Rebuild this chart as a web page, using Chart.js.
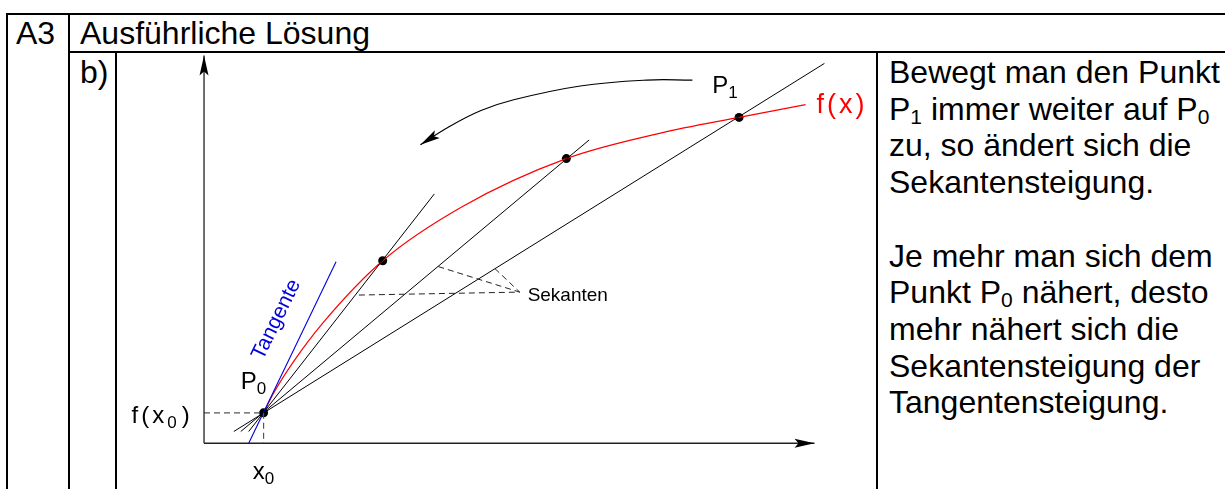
<!DOCTYPE html>
<html lang="de">
<head>
<meta charset="utf-8">
<title>A3 Ausführliche Lösung</title>
<script src="https://cdn.jsdelivr.net/npm/chart.js@4.4.1/dist/chart.umd.min.js"></script>
<style>
    html, body { margin: 0; padding: 0; background: #fff; }
    body {
        width: 1225px; height: 489px; position: relative; overflow: hidden;
        font-family: "Liberation Sans", Arial, sans-serif; color: #000;
    }
    .ln { position: absolute; background: #000; }
    .txt { position: absolute; white-space: nowrap; font-size: 32px; line-height: 36.7px; }
    .txt sub { font-size: 21px; line-height: 0; vertical-align: -4px; }
    #chartBox { position: absolute; left: 0; top: 0; width: 1225px; height: 489px; }
</style>
</head>
<body>

<!-- Tabellenrahmen -->
<div class="ln" style="left:6px; top:13px; width:1219px; height:2px;"></div>
<div class="ln" style="left:6px; top:13px; width:2px; height:476px;"></div>
<div class="ln" style="left:68px; top:13px; width:2px; height:476px;"></div>
<div class="ln" style="left:68px; top:51px; width:1157px; height:2px;"></div>
<div class="ln" style="left:115px; top:51px; width:2px; height:438px;"></div>
<div class="ln" style="left:876px; top:51px; width:2px; height:438px;"></div>

<div class="txt" style="left:16px; top:15px;">A3</div>
<div class="txt" style="left:80px; top:15px;">Ausführliche Lösung</div>
<div class="txt" style="left:80px; top:54px;">b)</div>
<div class="txt" style="left:889px; top:54px;">
Bewegt man den Punkt<br>
P<sub>1</sub> immer weiter auf P<sub>0</sub><br>
zu, so ändert sich die<br>
Sekantensteigung.<br>
<br>
Je mehr man sich dem<br>
Punkt P<sub>0</sub> nähert, desto<br>
mehr nähert sich die<br>
Sekantensteigung der<br>
Tangentensteigung.
</div>

<div id="chartBox"><canvas id="sekChart" width="1225" height="489"></canvas></div>

<script>
const curveX = [0.60, 0.70, 0.90, 1.20, 1.80, 2.60, 3.65, 4.60, 5.39, 6.06];
const curveY = [0.31, 0.51, 0.83, 1.23, 1.86, 2.41, 2.90, 3.16, 3.32, 3.45];

// markierte Punkte: P0, zwei Zwischenpunkte, P1
const pointX = [0.60, 1.80, 3.65, 5.39];
const pointY = [0.31, 1.86, 2.90, 3.32];

// Sekanten durch P0 (Anfang / Ende)
const secStartX = [0.45, 0.37, 0.30];
const secStartY = [0.12, 0.12, 0.12];
const secEndX = [2.32, 3.88, 6.25];
const secEndY = [2.54, 3.09, 3.87];

// Tangente in P0
const tangentX = [0.45, 1.33];
const tangentY = [0.00, 1.85];

// Achsen
const xAxisX = [0, 6.15];
const xAxisY = [0, 0];
const yAxisX = [0, 0];
const yAxisY = [0, 3.95];

// Bogenpfeil (P1 wandert Richtung P0)
const arrowX = [4.92, 4.46, 3.79, 3.12, 2.79, 2.46, 2.18];
const arrowY = [3.70, 3.70, 3.64, 3.50, 3.39, 3.22, 3.04];

// Hilfslinien zu x0 / f(x0)
const guideHX = [0, 0.60];
const guideHY = [0.31, 0.31];
const guideVX = [0.60, 0.60];
const guideVY = [0.31, 0];

// gestrichelte Zeiger auf "Sekanten"
const pointerStartX = [2.36, 2.93, 1.56];
const pointerStartY = [1.80, 1.78, 1.51];
const pointerEnd = [3.18, 1.54];

// Beschriftungen
const labelText = ['P', 'P', 'f(x)', 'Sekanten', 'Tangente', 'f(x', 'x'];
const labelSub = ['0', '1', '', '', '', '0', '0'];
const labelTail = ['', '', '', '', '', ')', ''];
const labelSize = [24, 24, 27, 19, 21, 24, 24];
const labelX = [0.37, 5.12, 6.17, 3.26, 0.73, -0.73, 0.49];
const labelY = [0.55, 3.57, 3.36, 1.45, 1.26, 0.21, -0.36];

function pts(xs, ys) {
    return xs.map((x, i) => ({ x: x, y: ys[i] }));
}

function lineSet(data, color, width, extra) {
    return Object.assign({
        data: data,
        showLine: true,
        borderColor: color,
        borderWidth: width,
        pointRadius: 0,
        fill: false
    }, extra || {});
}

const datasets = [];

datasets.push(lineSet(pts(xAxisX, xAxisY), '#222', 1.3, { arrowHead: [20, 4.5] }));
datasets.push(lineSet(pts(yAxisX, yAxisY), '#222', 1.3, { arrowHead: [20, 4.5] }));

datasets.push(lineSet(pts(guideHX, guideHY), '#555', 1.2, { borderDash: [6, 4] }));
datasets.push(lineSet(pts(guideVX, guideVY), '#555', 1.2, { borderDash: [6, 4] }));

pointerStartX.forEach((x, i) => {
    datasets.push(lineSet([{ x: x, y: pointerStartY[i] }, { x: pointerEnd[0], y: pointerEnd[1] }],
        '#222', 1, { borderDash: [6, 4] }));
});

secStartX.forEach((x, i) => {
    datasets.push(lineSet([{ x: x, y: secStartY[i] }, { x: secEndX[i], y: secEndY[i] }], '#000', 1));
});

datasets.push(lineSet(pts(tangentX, tangentY), '#0000dd', 1.1));
datasets.push(lineSet(pts(curveX, curveY), '#ff0000', 1.2, { cubicInterpolationMode: 'monotone' }));
datasets.push(lineSet(pts(arrowX, arrowY), '#000', 1.2, { tension: 0.4, arrowHead: [20, 4.5] }));

datasets.push({
    data: pts(pointX, pointY),
    showLine: false,
    pointRadius: 4.5,
    pointBackgroundColor: '#000',
    pointBorderColor: '#000',
    pointBorderWidth: 0
});

// Pfeilspitzen am Ende markierter Linien
const arrowHeads = {
    id: 'arrowHeads',
    afterDatasetsDraw(chart) {
        const ctx = chart.ctx;
        chart.data.datasets.forEach((ds, i) => {
            if (!ds.arrowHead) return;
            const els = chart.getDatasetMeta(i).data;
            const tip = els[els.length - 1];
            const prev = els[els.length - 2];
            const ang = Math.atan2(tip.y - prev.y, tip.x - prev.x);
            const len = ds.arrowHead[0], half = ds.arrowHead[1];
            ctx.save();
            ctx.translate(tip.x, tip.y);
            ctx.rotate(ang);
            ctx.fillStyle = '#000';
            ctx.beginPath();
            ctx.moveTo(0, 0);
            ctx.lineTo(-len, -half);
            ctx.lineTo(-len * 0.8, 0);
            ctx.lineTo(-len, half);
            ctx.closePath();
            ctx.fill();
            ctx.restore();
        });
    }
};

// Beschriftungen an Datenkoordinaten
const labels = {
    id: 'labels',
    afterDraw(chart) {
        const ctx = chart.ctx;
        const sx = chart.scales.x, sy = chart.scales.y;
        const face = 'px "Liberation Sans", Arial, sans-serif';
        labelText.forEach((t, i) => {
            const px = sx.getPixelForValue(labelX[i]);
            const py = sy.getPixelForValue(labelY[i]);
            const size = labelSize[i];
            ctx.save();
            ctx.textBaseline = 'alphabetic';
            ctx.fillStyle = '#000';
            if (t === 'f(x)') ctx.fillStyle = '#ff0000';
            if (t === 'Tangente') {
                ctx.fillStyle = '#0000dd';
                ctx.translate(px, py);
                ctx.rotate(-64 * Math.PI / 180);
                ctx.font = size + face;
                ctx.textAlign = 'center';
                ctx.textBaseline = 'middle';
                ctx.fillText(t, 0, 0);
                ctx.restore();
                return;
            }
            ctx.font = size + face;
            if (t.indexOf('(') >= 0) ctx.letterSpacing = '3px';
            ctx.fillText(t, px, py);
            let x = px + ctx.measureText(t).width;
            if (labelSub[i]) {
                ctx.font = Math.round(size * 0.7) + face;
                ctx.fillText(labelSub[i], x, py + 5);
                x += ctx.measureText(labelSub[i]).width + 2;
            }
            if (labelTail[i]) {
                ctx.font = size + face;
                ctx.fillText(labelTail[i], x, py);
            }
            ctx.restore();
        });
    }
};

new Chart(document.getElementById('sekChart').getContext('2d'), {
    type: 'scatter',
    data: { datasets: datasets },
    options: {
        responsive: false,
        animation: false,
        devicePixelRatio: 1,
        layout: { padding: 0 },
        plugins: { legend: { display: false }, tooltip: { enabled: false } },
        scales: {
            x: { type: 'linear', min: -2.01, max: 10.24, display: false },
            y: { type: 'linear', min: -0.42, max: 4.47, display: false }
        }
    },
    plugins: [arrowHeads, labels]
});
</script>
</body>
</html>
